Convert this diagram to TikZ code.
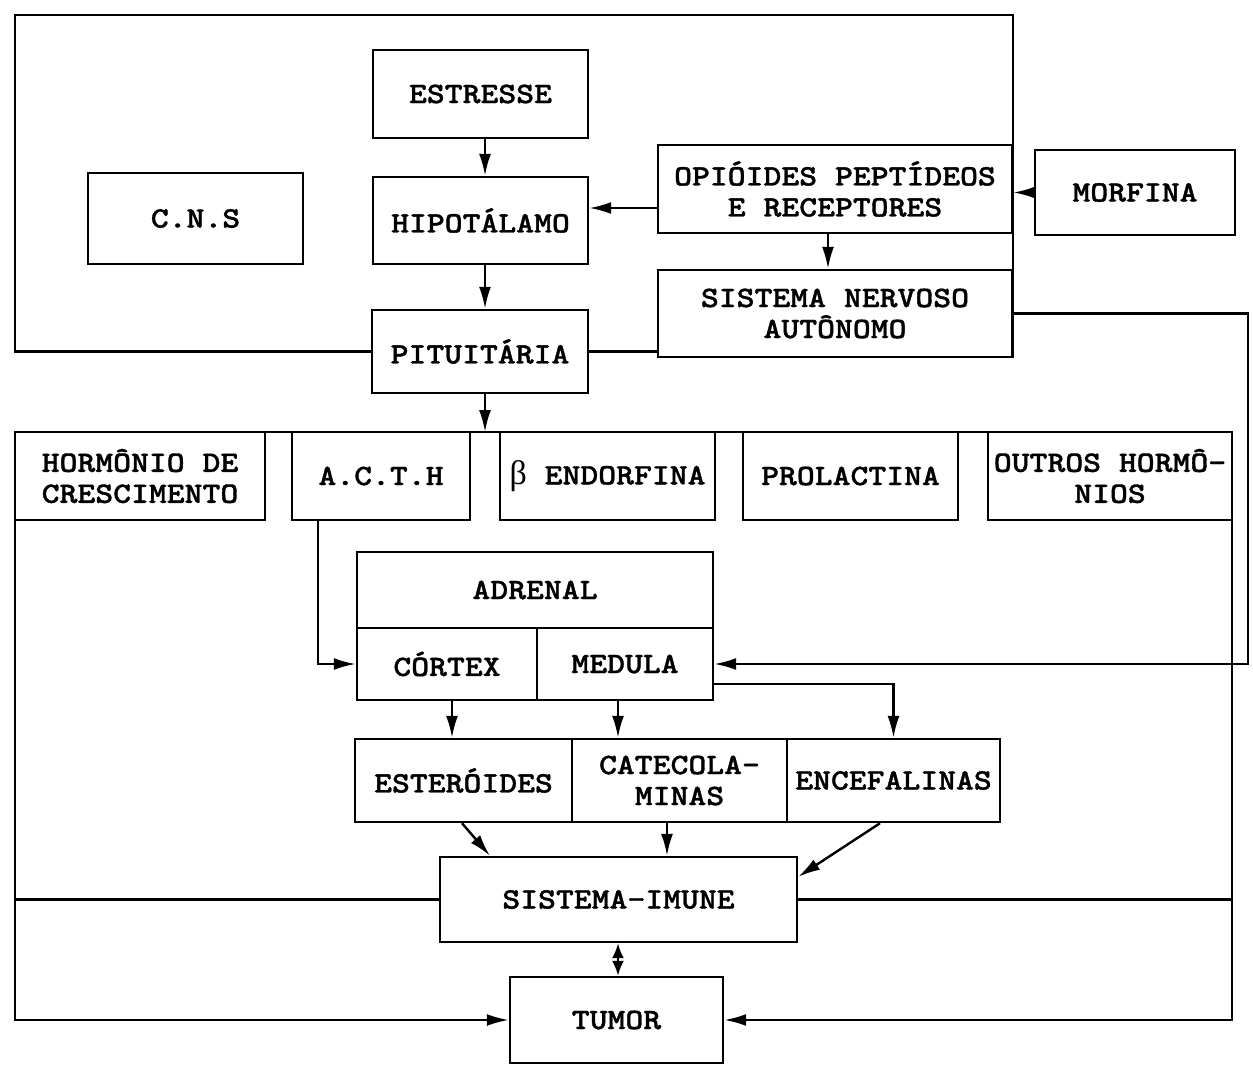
\documentclass[tikz,border=0pt]{standalone}
\usepackage{fontspec}
\usetikzlibrary{arrows.meta}
\newfontfamily\tw{lmmonolt10-bold.otf}[FakeStretch=1.15,FakeBold=1.2]
\newfontfamily\gk{Liberation Serif}
\begin{document}
\begin{tikzpicture}[x=0.5pt,y=-0.5pt,
  box/.style={draw, line width=1.2pt, inner sep=0pt, align=center,
    font=\tw\fontsize{14.8}{15.5}\selectfont},
  ln/.style={line width=1.2pt},
  arr/.style={line width=1.2pt, -{Latex[length=11pt,width=6pt]}},
  dbl/.style={line width=1.2pt, {Latex[length=7.5pt,width=6pt]}-{Latex[length=7.5pt,width=6pt]}}]
\useasboundingbox (0,0) rectangle (1253,1065);
% helper coordinates
\coordinate (tl) at (15,15);
\coordinate (bl) at (15,432);
\coordinate (br) at (1232,432);
\coordinate (x1248) at (1248,0);
\coordinate (x318) at (318,0);
\coordinate (x828) at (828,0);
\coordinate (x452) at (452,0);
\coordinate (x618) at (618,0);
\coordinate (x462) at (462,0);
\coordinate (x490) at (490,0);
\coordinate (x667) at (667,0);
\coordinate (x880) at (880,0);
\coordinate (x485) at (485,0);
% upper nodes
\node[box, minimum width=107.5pt, minimum height=44pt] (estresse) at (480.5,94) {ESTRESSE};
\node[box, minimum width=107.5pt, minimum height=43.5pt] (hipo) at (480.5,220.5) {HIPOTÁLAMO};
\node[box, minimum width=108pt, minimum height=41.5pt] (pit) at (480,351.5) {PITUITÁRIA};
\node[box, minimum width=107.5pt, minimum height=45.5pt] (cns) at (195.5,218.5) {C.N.S};
\node[box, minimum width=177pt, minimum height=44pt] (opi) at (835,189) {OPIÓIDES PEPTÍDEOS\\E RECEPTORES};
\node[box, minimum width=177pt, minimum height=43.5pt] (sna) at (835,313.5) {SISTEMA NERVOSO\\AUTÔNOMO};
\node[box, minimum width=100pt, minimum height=42.5pt] (morf) at (1135,192.5) {MORFINA};
% hormones
\node[box, minimum width=125pt, minimum height=44pt] (hgc) at (140,476) {HORMÔNIO DE\\CRESCIMENTO};
\node[box, minimum width=89pt, minimum height=44pt] (acth) at (381,476) {A.C.T.H};
\node[box, minimum width=107.5pt, minimum height=44pt] (beta) at (607.5,476) {{\gk\fontsize{17}{17}\selectfont β}\ ENDORFINA};
\node[box, minimum width=107.5pt, minimum height=44pt] (prol) at (850.5,476) {PROLACTINA};
\node[box, minimum width=122pt, minimum height=44pt] (outros) at (1110,476) {OUTROS HORMÔ-\\NIOS};
% adrenal
\node[box, minimum width=178pt, minimum height=38pt] (adrenal) at (535,590) {ADRENAL};
\node[box, minimum width=90pt, minimum height=36pt] (cortex) at (447,664) {CÓRTEX};
\node[box, minimum width=88pt, minimum height=36pt] (medula) at (625,664) {MEDULA};
% products
\node[box, minimum width=108.5pt, minimum height=41.5pt] (est) at (463.5,780.5) {ESTERÓIDES};
\node[box, minimum width=107.5pt, minimum height=41.5pt] (cat) at (679.5,780.5) {CATECOLA-\\MINAS};
\node[box, minimum width=106.5pt, minimum height=41.5pt] (enc) at (893.5,780.5) {ENCEFALINAS};
\node[box, minimum width=178.5pt, minimum height=42.5pt] (si) at (618.5,899.5) {SISTEMA-IMUNE};
\node[box, minimum width=106.5pt, minimum height=43pt] (tumor) at (616.5,1020) {TUMOR};
% top frame
\draw[ln] (pit.west) -| (tl) -| (sna.south east);
\draw[ln] (pit.east) -- (pit.east -| sna.west);
% upper arrows
\draw[arr] (x485 |- estresse.south) -- (x485 |- hipo.north);
\draw[arr] (x485 |- hipo.south) -- (x485 |- pit.north);
\coordinate (o1) at ([yshift=-9.5pt]opi.west);
\draw[arr] (o1) -- (o1 -| hipo.east);
\draw[arr] (morf.west) -- (morf.west -| opi.east);
\draw[arr] (x828 |- opi.south) -- (x828 |- sna.north);
\draw[arr] (sna.east) -| (x1248 |- medula.east) -- (medula.east);
% hormone bar
\draw[ln] (bl) -- (br);
\draw[arr] (x485 |- pit.south) -- (x485 |- bl);
\draw[arr] (bl) |- (tumor.west);
\draw[arr] (br) |- (tumor.east);
\draw[ln] (si.west) -- (si.west -| bl);
\draw[ln] (si.east) -- (si.east -| br);
% adrenal arrows
\draw[arr] (x318 |- acth.south) |- (cortex.west);
\draw[arr] (x452 |- cortex.south) -- (x452 |- est.north);
\draw[arr] (x618 |- medula.south) -- (x618 |- cat.north);
\coordinate (m1) at ([yshift=-10pt]medula.east);
\draw[arr] (m1) -| (enc.north);
% to immune system
\draw[arr] (x462 |- est.south) -- (x490 |- si.north);
\draw[arr] (x667 |- cat.south) -- (x667 |- si.north);
\draw[arr] (x880 |- enc.south) -- ([yshift=-10.5pt]si.north east);
\draw[dbl] (x618 |- si.south) -- (x618 |- tumor.north);
\end{tikzpicture}
\end{document}
